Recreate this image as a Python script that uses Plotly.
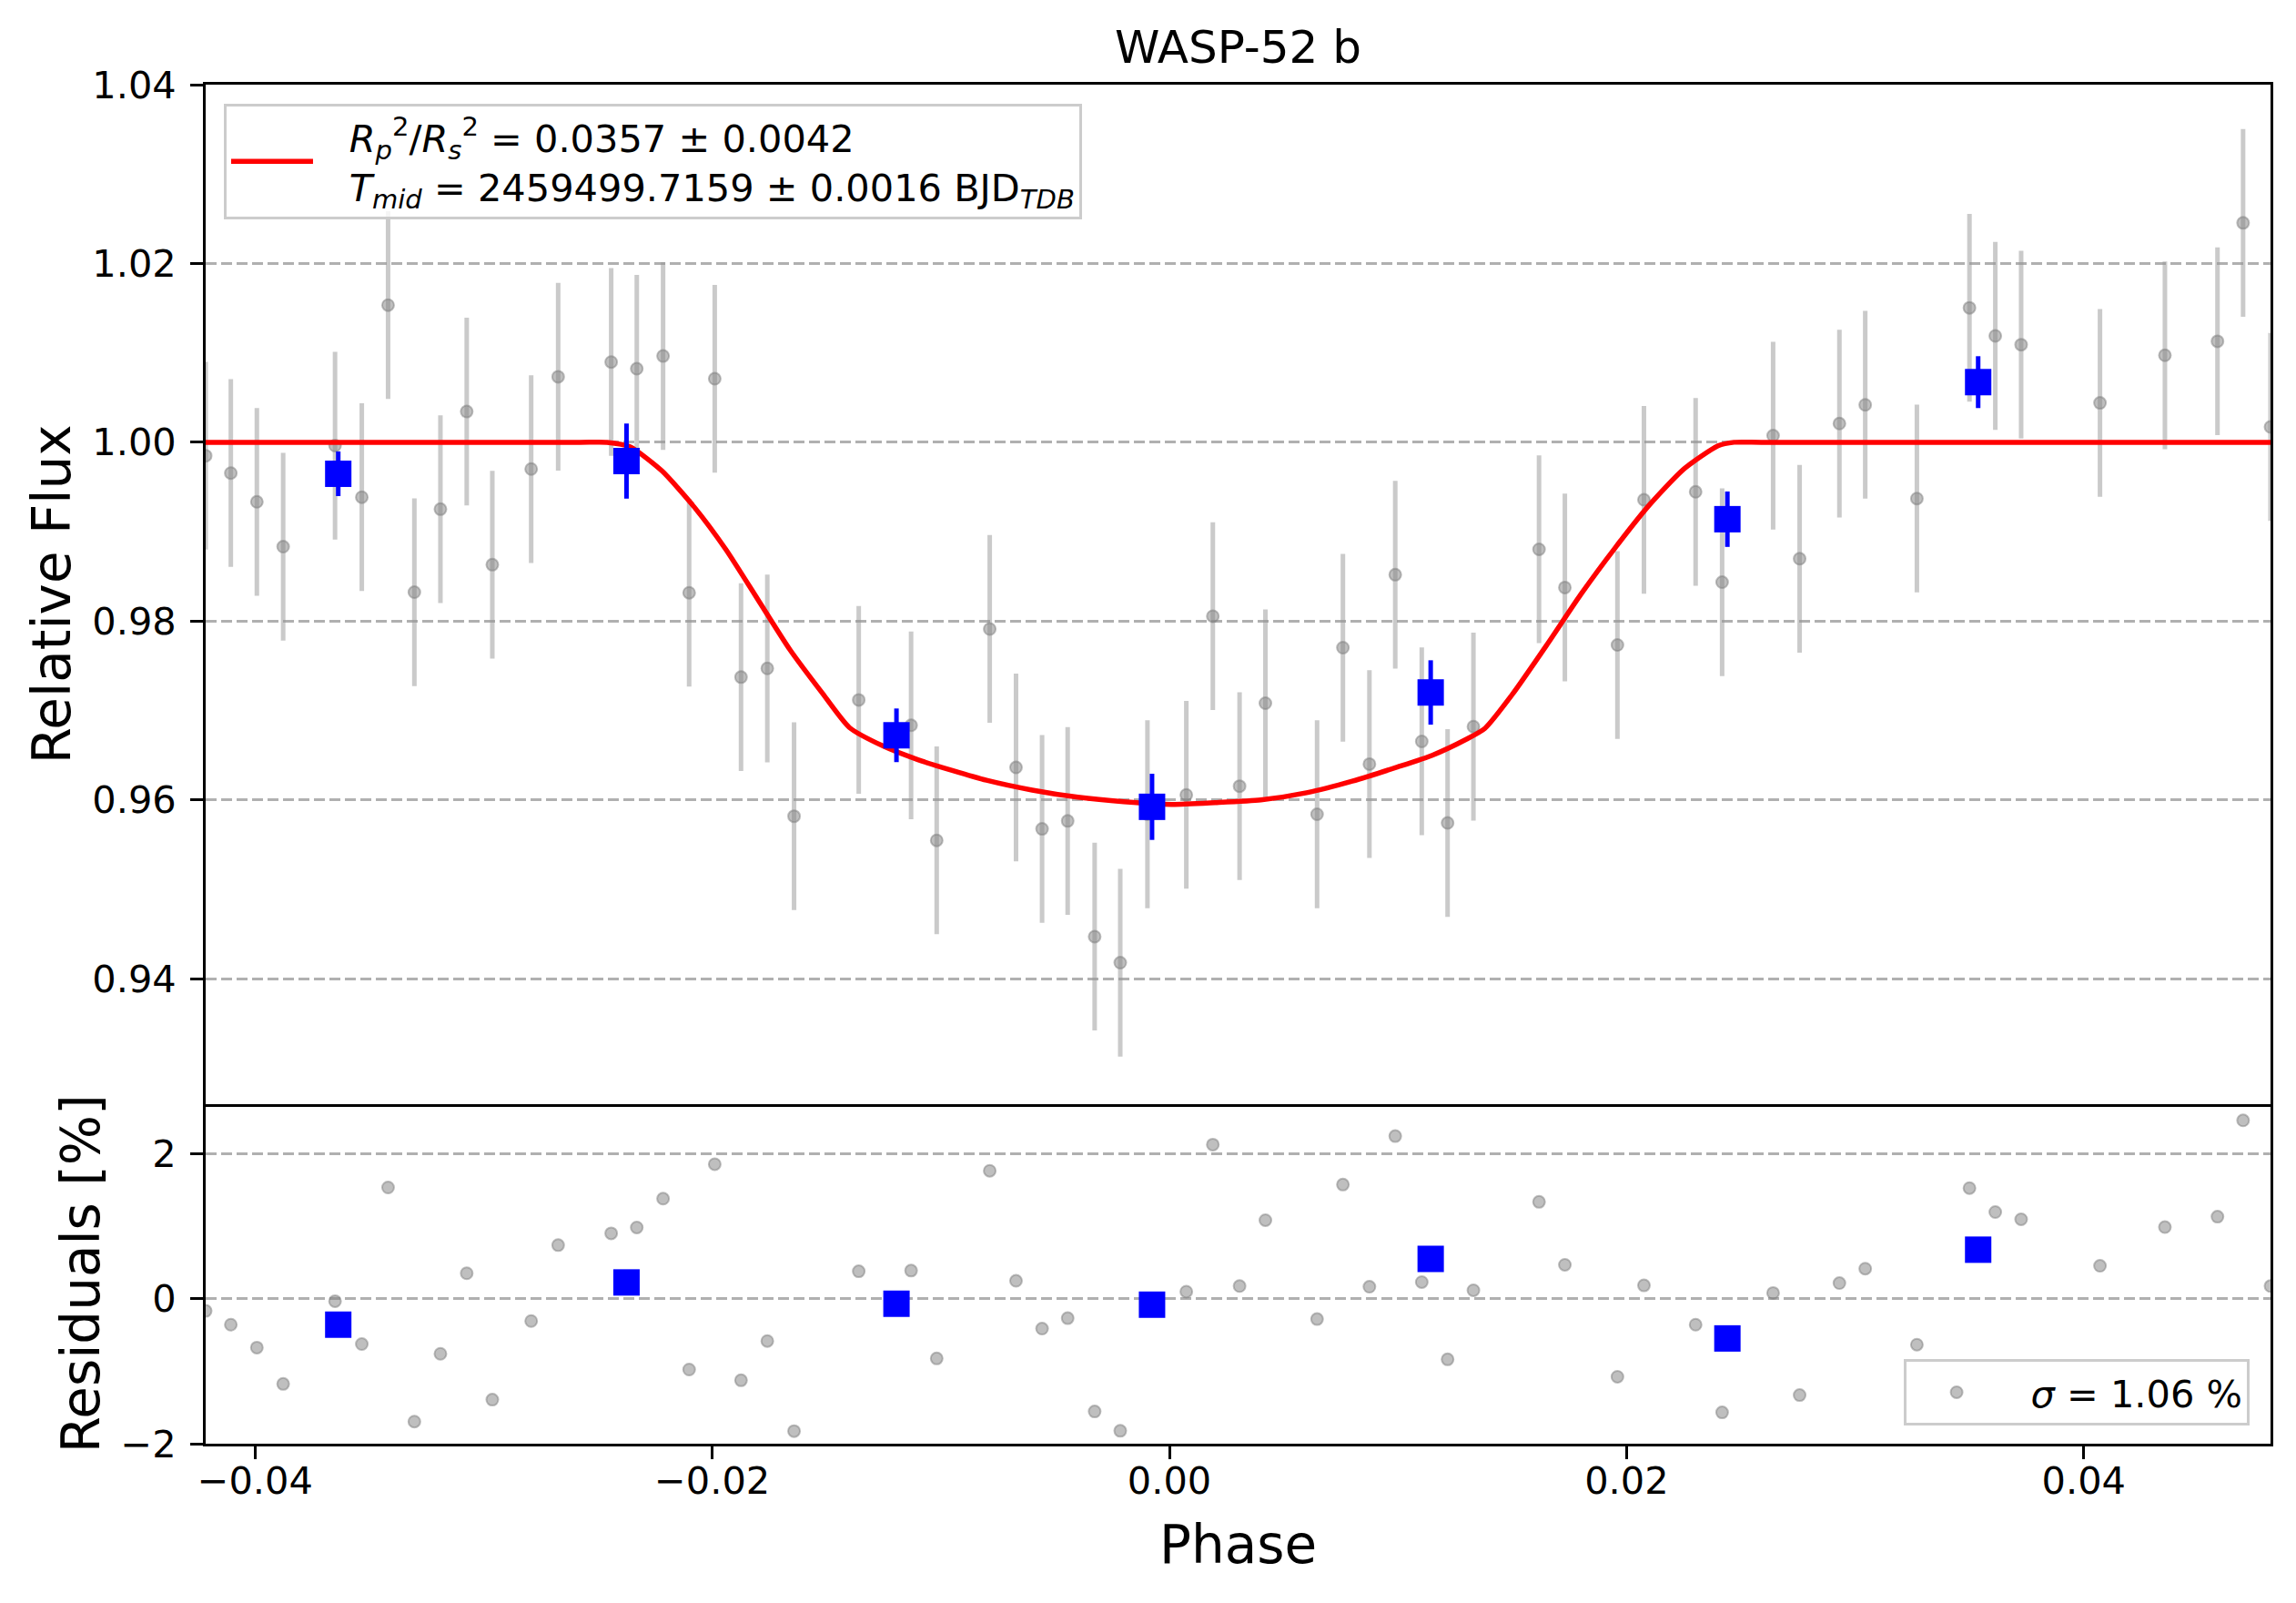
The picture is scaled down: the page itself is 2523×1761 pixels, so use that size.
import plotly.graph_objects as go
from plotly.subplots import make_subplots

# phase-folded light curve (gray points)
phase = [-0.04216, -0.04106, -0.03992, -0.03877, -0.03650, -0.03533, -0.03418, -0.03303,
         -0.03189, -0.03074, -0.02962, -0.02792, -0.02674, -0.02442, -0.02330, -0.02215,
         -0.02101, -0.01989, -0.01874, -0.01759, -0.01642, -0.01359, -0.01130, -0.01018,
         -0.00786, -0.00671, -0.00557, -0.00445, -0.00327, -0.00215, -0.00096, 0.00074,
         0.00190, 0.00307, 0.00420, 0.00646, 0.00759, 0.00875, 0.00988, 0.01104,
         0.01217, 0.01330, 0.01617, 0.01730, 0.01960, 0.02076, 0.02302, 0.02418,
         0.02641, 0.02757, 0.02931, 0.03044, 0.03270, 0.03500, 0.03613, 0.03726,
         0.04071, 0.04355, 0.04585, 0.04697, 0.04817]

flux = [0.9985, 0.99656, 0.99334, 0.98833, 0.99963, 0.99386, 1.01534, 0.98324,
        0.99252, 1.00344, 0.98631, 0.99701, 1.00733, 1.00898, 1.00823, 1.00965,
        0.98317, 1.00711, 0.97374, 0.97471, 0.95818, 0.97119, 0.96835, 0.95548,
        0.97912, 0.96364, 0.95676, 0.95765, 0.94471, 0.94180, 0.9584, 0.96057,
        0.98055, 0.96154, 0.97082, 0.95840, 0.97703, 0.96401, 0.98519, 0.96655,
        0.95743, 0.96820, 0.98803, 0.98376, 0.97733, 0.99357, 0.99446, 0.98436,
        1.00075, 0.98698, 1.00210, 1.00419, 0.99371, 1.01504, 1.01190, 1.01092,
        1.00441, 1.00973, 1.01130, 1.02454, 1.00172]

flux_err = [0.0105] * 61

resid = [-0.167, -0.357, -0.673, -1.175, -0.032, -0.624, 1.537, -1.695,
         -0.759, 0.353, -1.392, -0.307, 0.741, 0.904, 0.985, 1.383,
         -0.976, 1.858, -1.125, -0.583, -1.826, 0.380, 0.389, -0.823,
         1.767, 0.249, -0.411, -0.267, -1.555, -1.822, -0.11, 0.099,
         2.129, 0.176, 1.085, -0.280, 1.577, 0.167, 2.246, 0.231,
         -0.836, 0.118, 1.338, 0.470, -1.076, 0.185, -0.357, -1.568,
         0.081, -1.329, 0.217, 0.416, -0.633, 1.528, 1.198, 1.098,
         0.456, 0.990, 1.134, 2.463, 0.176]

# binned points (blue)
bin_phase = [-0.03636, -0.02375, -0.01194, -0.00076, 0.01143, 0.02441, 0.03538]
bin_flux = [0.99648, 0.99790, 0.96723, 0.95923, 0.97202, 0.99140, 1.00673]
bin_err = [0.0025, 0.0042, 0.0030, 0.0037, 0.0036, 0.0031, 0.0029]
bin_resid = [-0.357, 0.226, -0.068, -0.081, 0.551, -0.547, 0.678]

# transit model (red line)
model_phase = [-0.04216, -0.0258, -0.0246, -0.0236, -0.0222, -0.0208, -0.0194, -0.0180,
               -0.0166, -0.0152, -0.0140, -0.0125, -0.0110, -0.0095, -0.0080, -0.0060,
               -0.0040, -0.0020, 0.0001, 0.0020, 0.0040, 0.0060, 0.0080, 0.0100,
               0.0115, 0.0130, 0.0138, 0.0150, 0.0165, 0.0180, 0.0195, 0.0210,
               0.0225, 0.0240, 0.0247, 0.0259, 0.04817]
model_flux = [1.0, 1.0, 1.0, 0.9995, 0.9968, 0.9928, 0.9880, 0.9824,
              0.9768, 0.9720, 0.9681, 0.9660, 0.9645, 0.9633, 0.9622, 0.9611,
              0.9603, 0.9598, 0.9595, 0.9597, 0.9600, 0.9608, 0.9621, 0.9637,
              0.9650, 0.9668, 0.9680, 0.9718, 0.9773, 0.9830, 0.9882, 0.9930,
              0.9970, 0.9996, 1.0, 1.0, 1.0]

y_ticks = [0.94, 0.96, 0.98, 1.00, 1.02, 1.04]
res_ticks = [-2, 0, 2]
x_ticks = [-0.04, -0.02, 0.00, 0.02, 0.04]

FONT = "DejaVu Sans"
GRAY = "rgba(128,128,128,0.5)"
GRID = "#b0b0b0"
PAD = "\u00a0\u00a0\u2009"
PAD2 = "\u00a0\u00a0"


def main():
    fig = make_subplots(rows=2, cols=1, shared_xaxes=True,
                        row_heights=[0.75, 0.25], vertical_spacing=0)

    fig.add_trace(go.Scatter(
        x=phase, y=flux, mode="markers", showlegend=False,
        marker=dict(size=13, color=GRAY, line=dict(width=2, color=GRAY)),
        error_y=dict(type="data", array=flux_err, visible=True,
                     color="rgba(150,150,150,0.5)", thickness=5, width=0),
    ), row=1, col=1)

    fig.add_trace(go.Scatter(
        x=model_phase, y=model_flux, mode="lines",
        line=dict(color="red", width=5.5, shape="spline", smoothing=0.6),
        name=(PAD + "<i>R</i><sub><i>p</i></sub><sup>2</sup>/<i>R</i><sub><i>s</i></sub><sup>2</sup>"
              " = 0.0357 ± 0.0042<br>" + PAD +
              "<i>T</i><sub><i>mid</i></sub> = 2459499.7159 ± 0.0016 BJD<sub><i>TDB</i></sub>"),
        legend="legend",
    ), row=1, col=1)

    fig.add_trace(go.Scatter(
        x=bin_phase, y=bin_flux, mode="markers", showlegend=False,
        marker=dict(symbol="square", size=29, color="blue", line=dict(width=0)),
        error_y=dict(type="data", array=bin_err, visible=True,
                     color="blue", thickness=5, width=0),
    ), row=1, col=1)

    fig.add_trace(go.Scatter(
        x=phase, y=resid, mode="markers", name=PAD2 + "<i>σ</i> = 1.06 %",
        legend="legend2",
        marker=dict(size=13, color=GRAY, line=dict(width=2, color=GRAY)),
    ), row=2, col=1)

    fig.add_trace(go.Scatter(
        x=bin_phase, y=bin_resid, mode="markers", showlegend=False,
        marker=dict(symbol="square", size=29, color="blue", line=dict(width=0)),
    ), row=2, col=1)

    axis_common = dict(showline=True, linecolor="black", linewidth=3,
                       zeroline=False, tickfont=dict(size=41.5, color="black"),
                       ticklen=14, tickwidth=3, tickcolor="black")

    x_range = [phase[0], phase[-1]]
    fig.update_xaxes(range=x_range, showgrid=False, **axis_common)
    fig.update_xaxes(ticks="", showticklabels=False, mirror=True, row=1, col=1)
    fig.update_xaxes(ticks="outside", tickvals=x_ticks, tickformat=".2f", mirror=False,
                     ticklabelstandoff=-12, row=2, col=1)

    grid = dict(showgrid=True, gridcolor=GRID, gridwidth=3, griddash="12px,5px")
    fig.update_yaxes(range=[0.926, 1.04], tickvals=y_ticks, tickformat=".2f",
                     ticks="outside", ticklabelstandoff=7, mirror=True,
                     title=dict(text="Relative Flux", font=dict(size=58, color="black"),
                                standoff=5),
                     row=1, col=1, **grid, **axis_common)
    fig.update_yaxes(range=[-2.0, 2.69], tickvals=res_ticks, tickformat="d",
                     ticks="outside", ticklabelstandoff=7, mirror=True,
                     title=dict(text="Residuals [%]", font=dict(size=58, color="black"),
                                standoff=5),
                     row=2, col=1, **grid, **axis_common)

    # x-axis title placed as an annotation to match the reference spacing
    fig.add_annotation(text="Phase", xref="paper", yref="paper", x=0.5, y=-0.0743,
                       xanchor="center", yanchor="middle", showarrow=False,
                       font=dict(size=58, color="black"))

    fig.update_layout(
        width=2523, height=1761,
        margin=dict(l=226, r=28, t=93, b=175),
        paper_bgcolor="white", plot_bgcolor="white",
        font=dict(family=FONT, color="black"),
        title=dict(text="WASP-52 b", x=0.5, xref="paper", xanchor="center",
                   y=1 - 51 / 1761, yanchor="middle", font=dict(size=50, color="black")),
        legend=dict(x=0.0088, y=0.986, xanchor="left", yanchor="top",
                    bgcolor="rgba(255,255,255,0.8)", bordercolor="#cccccc", borderwidth=3,
                    font=dict(size=41.5, color="black"), itemwidth=90, valign="middle"),
        legend2=dict(x=0.9899, y=0.0134, xanchor="right", yanchor="bottom",
                     bgcolor="rgba(255,255,255,0.8)", bordercolor="#cccccc", borderwidth=3,
                     font=dict(size=41.5, color="black"), itemwidth=100),
    )

    fig.write_html("out.html", config={"displayModeBar": False},
                   post_script="document.body.style.margin='0';")


if __name__ == "__main__":
    main()
